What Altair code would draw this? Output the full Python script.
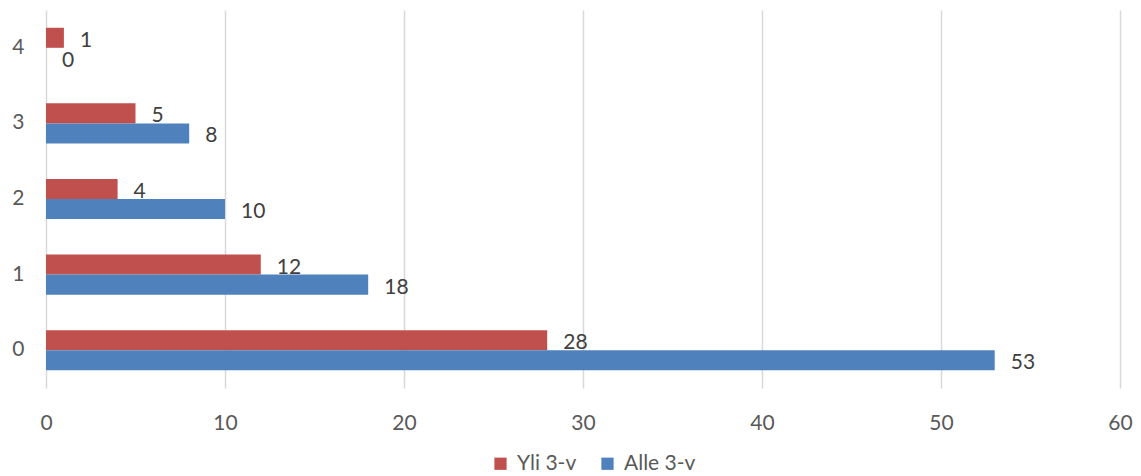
import altair as alt
import pandas as pd

categories = ["0", "1", "2", "3", "4"]
series_names = ["Yli 3-v", "Alle 3-v"]
yli_values = [28, 12, 4, 5, 1]
alle_values = [53, 18, 10, 8, 0]
x_ticks = [0, 10, 20, 30, 40, 50, 60]
colors = ["#C0504D", "#4F81BD"]

rows = []
for c, a, b in zip(categories, yli_values, alle_values):
    rows.append({"cat": c, "series": series_names[0], "value": a})
    rows.append({"cat": c, "series": series_names[1], "value": b})
df = pd.DataFrame(rows)

FONT = "Lato"
TXT = "#595959"
FS = 21

y_enc = alt.Y("cat:N", sort=categories[::-1],
              scale=alt.Scale(paddingInner=0.47, paddingOuter=0.235),
              axis=alt.Axis(title=None, domain=False, ticks=False, labelPadding=22,
                            labelFontSize=FS, labelColor=TXT, labelFont=FONT, grid=False))
yoff = alt.YOffset("series:N", sort=series_names, scale=alt.Scale(paddingInner=0, paddingOuter=0))
x_enc = alt.X("value:Q", scale=alt.Scale(domain=[0, 60], nice=False),
              axis=alt.Axis(title=None, values=x_ticks, domain=False, ticks=False,
                            labelPadding=24, labelFontSize=FS, labelColor=TXT, labelFont=FONT,
                            labelFlush=False,
                            grid=True, gridColor="#D9D9D9", gridWidth=1.5))

bars = alt.Chart(df).mark_bar().encode(
    x=x_enc,
    y=y_enc,
    yOffset=yoff,
    color=alt.Color("series:N", scale=alt.Scale(domain=series_names, range=colors),
                    legend=alt.Legend(title=None, orient="none", legendX=444, legendY=443,
                                      direction="horizontal", symbolType="square",
                                      symbolSize=150, symbolStrokeWidth=0,
                                      labelFontSize=FS, labelColor=TXT, labelFont=FONT,
                                      columnPadding=20, symbolOffset=0, labelOffset=6,
                                      labelLimit=200)),
)

labels = alt.Chart(df).mark_text(align="left", baseline="middle", dx=16, dy=3,
                                 fontSize=FS, font=FONT, color="#404040").encode(
    x=alt.X("value:Q"),
    y=alt.Y("cat:N", sort=categories[::-1]),
    yOffset=alt.YOffset("series:N", sort=series_names),
    text=alt.Text("value:Q"),
)

chart = (bars + labels).properties(
    width=1074, height=378,
    autosize=alt.AutoSizeParams(type="none"),
    padding={"left": 38, "top": 2, "right": 13, "bottom": 95},
).configure_view(stroke=None).configure_scale(bandPaddingInner=0)

chart.save("out.html", embed_options={"renderer": "svg", "actions": False})
